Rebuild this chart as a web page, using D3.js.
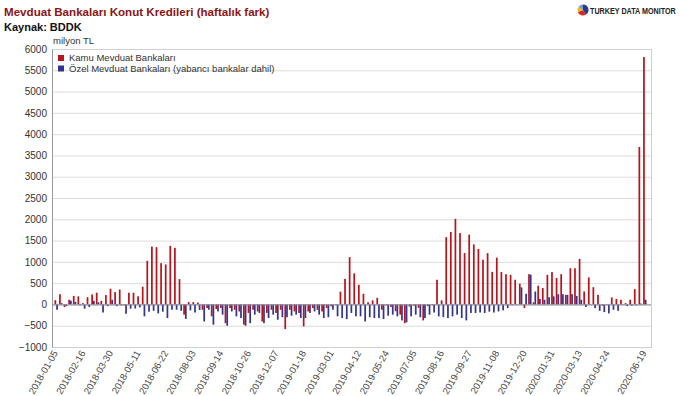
<!DOCTYPE html>
<html>
<head>
<meta charset="utf-8">
<script src="https://cdn.jsdelivr.net/npm/d3@7"></script>
<style>
  body { margin: 0; background: #fff; }
  svg { display: block; font-family: "Liberation Sans", Arial, sans-serif; }
  .grid line { stroke: #dcdcdc; }
  .axis text { fill: #333; font-size: 10px; }
</style>
</head>
<body>
<svg width="680" height="396"></svg>
<script>
// haftalık veriler, 2018-01-05 .. 2020-06-19
var startDate = "2018-01-05",
    weekCount = 129;

var kamu = [
  100, 240, -60, 110, 200, 190, 30, 170, 235, 275,
  85, 220, 370, 290, 350, -20, 275, 275, 190, 415,
  1025, 1360, 1345, 970, 940, 1375, 1330, 595, -240, 55,
  55, 45, -125, -85, -280, -110, -85, -440, -85, -125,
  -165, -475, -200, -125, -165, -400, -200, -125, -200, -125,
  -580, -125, -165, -200, -515, -165, -85, -125, -165, -85,
  -45, -10, 300, 600, 1110, 730, 460, 250, 50, 95,
  155, -125, -20, -60, -160, -240, -440, -50, -30, -80,
  -375, -40, -20, 580, 95, 1580, 1700, 2010, 1675, 1205,
  1640, 1410, 1305, 1050, 1205, 765, 1100, 760, 710, 695,
  580, 485, -85, 710, 50, 440, 385, 695, 760, 620,
  710, 225, 850, 850, 1070, 305, 635, 405, 225, -30,
  10, 165, 130, 110, 30, 110, 360, 3700, 5810
];

var ozel = [
  -125, 30, -40, 90, 60, -20, -100, -60, 85, 50,
  -190, -40, 110, -40, -25, -220, -100, -95, -70, -280,
  -170, -150, -210, -170, -320, -125, -125, -150, -340, -140,
  -190, -130, -400, -125, -475, -165, -240, -500, -165, -280,
  -320, -500, -440, -240, -200, -440, -320, -240, -360, -300,
  -300, -265, -240, -320, -320, -200, -165, -240, -320, -300,
  -125, -280, -320, -345, -200, -280, -280, -400, -300, -320,
  -320, -345, -265, -240, -280, -375, -420, -280, -240, -300,
  -320, -240, -190, -280, -300, -320, -280, -240, -320, -375,
  -200, -200, -190, -200, -170, -190, -165, -140, -85, -20,
  -10, 400, 250, 700, 305, 130, 110, 170, 190, 240,
  240, 225, 240, 200, 110, -60, 10, -85, -150, -180,
  -210, -125, -150, -10, -40, -30, -20, 20, 110
];

var tickLabels = ["2018-01-05", "2018-02-16", "2018-03-30", "2018-05-11", "2018-06-22",
  "2018-08-03", "2018-09-14", "2018-10-26", "2018-12-07", "2019-01-18", "2019-03-01",
  "2019-04-12", "2019-05-24", "2019-07-05", "2019-08-16", "2019-09-27", "2019-11-08",
  "2019-12-20", "2020-01-31", "2020-03-13", "2020-04-24", "2020-06-19"];

var yTicks = [-1000, -500, 0, 500, 1000, 1500, 2000, 2500, 3000, 3500, 4000, 4500, 5000, 5500, 6000];

var seriesNames = ["Kamu Mevduat Bankaları", "Özel Mevduat Bankaları (yabancı bankalar dahil)"],
    colors = ["#b8141c", "#34348f"];

var fmt = d3.timeFormat("%Y-%m-%d"),
    parse = d3.timeParse("%Y-%m-%d");
// hafta tarihleri (cuma günleri)
var weeks = d3.range(weekCount).map(function(i) { return fmt(d3.timeDay.offset(parse(startDate), 7 * i)); });

var data = weeks.map(function(w, i) { return {week: w, kamu: kamu[i], ozel: ozel[i]}; });

var svg = d3.select("svg"),
    margin = {top: 49, right: 29, bottom: 49, left: 52},
    width = +svg.attr("width") - margin.left - margin.right,
    height = +svg.attr("height") - margin.top - margin.bottom;

var x = d3.scaleBand().domain(weeks).range([2, width - 4]).paddingInner(0.25).paddingOuter(0.1),
    y = d3.scaleLinear().domain([-1000, 6000]).range([height, 0]);

// başlık
svg.append("text")
  .attr("x", 4).attr("y", 16)
  .style("font-size", "11.6px").style("font-weight", "bold").style("fill", "#8b1414")
  .text("Mevduat Bankaları Konut Kredileri (haftalık fark)");
svg.append("text")
  .attr("x", 4).attr("y", 31)
  .style("font-size", "11px").style("font-weight", "bold").style("fill", "#111")
  .text("Kaynak: BDDK");
svg.append("text")
  .attr("x", 53).attr("y", 44)
  .style("font-size", "9.5px").style("fill", "#333")
  .text("milyon TL");

// logo
var logo = svg.append("g").attr("transform", "translate(583,10)");
var pie = d3.pie().sort(null)([3, 2, 1.2, 1]);
var logoArc = d3.arc().innerRadius(0).outerRadius(5.5);
logo.selectAll("path").data(pie).enter().append("path")
  .attr("d", logoArc)
  .attr("fill", function(d, i) { return ["#2d3b8f", "#d62828", "#f2b51c", "#6a9bd8"][i]; });
svg.append("text")
  .attr("transform", "translate(590,13.5) scale(0.8,1)")
  .style("font-size", "9px").style("font-weight", "bold").style("fill", "#222")
  .text("TURKEY DATA MONITOR");

var g = svg.append("g")
  .attr("transform", "translate(" + margin.left + "," + margin.top + ")");

g.append("g")
  .attr("class", "grid")
  .selectAll("line")
  .data(yTicks)
  .enter().append("line")
    .attr("x1", 0).attr("x2", width)
    .attr("y1", function(d) { return y(d) + 0.5; })
    .attr("y2", function(d) { return y(d) + 0.5; });

g.append("rect")
  .attr("x", 0.5).attr("y", 0.5)
  .attr("width", width).attr("height", height)
  .attr("fill", "none").attr("stroke", "#d0d0d0");

var yAxis = g.append("g")
  .attr("class", "axis axis--y")
  .call(d3.axisLeft(y).tickValues(yTicks).tickFormat(d3.format("d")).tickSize(0).tickPadding(5));
yAxis.select(".domain").attr("stroke", "#999");

var bw = x.bandwidth() / 2;

g.selectAll(".bar-kamu")
  .data(data)
  .enter().append("rect")
    .attr("class", "bar-kamu")
    .attr("x", function(d) { return x(d.week); })
    .attr("y", function(d) { return y(Math.max(0, d.kamu)); })
    .attr("width", bw)
    .attr("height", function(d) { return Math.abs(y(d.kamu) - y(0)); })
    .attr("fill", colors[0]);

g.selectAll(".bar-ozel")
  .data(data)
  .enter().append("rect")
    .attr("class", "bar-ozel")
    .attr("x", function(d) { return x(d.week) + bw; })
    .attr("y", function(d) { return y(Math.max(0, d.ozel)); })
    .attr("width", bw)
    .attr("height", function(d) { return Math.abs(y(d.ozel) - y(0)); })
    .attr("fill", colors[1]);

g.append("line")
  .attr("x1", 0).attr("x2", width)
  .attr("y1", y(0) + 0.5).attr("y2", y(0) + 0.5)
  .attr("stroke", "#8a8a99");

var xAxis = g.append("g")
  .attr("class", "axis axis--x")
  .attr("transform", "translate(0," + height + ")")
  .call(d3.axisBottom(x).tickValues(tickLabels).tickSize(0).tickPadding(0));
xAxis.select(".domain").remove();
xAxis.selectAll("text")
  .attr("text-anchor", "end")
  .attr("dx", "0").attr("dy", "0")
  .attr("transform", "translate(2,6) rotate(-60)")
  .style("font-size", "9.5px")
  .style("fill", "#444");

// lejant
var legend = g.append("g").attr("transform", "translate(6,6)");
seriesNames.forEach(function(name, i) {
  legend.append("rect")
    .attr("x", 0).attr("y", i * 10.5)
    .attr("width", 6).attr("height", 6)
    .attr("fill", colors[i]);
  legend.append("text")
    .attr("x", 11).attr("y", i * 10.5 + 6)
    .style("font-size", "9.5px").style("fill", "#333")
    .text(name);
});
</script>
</body>
</html>
